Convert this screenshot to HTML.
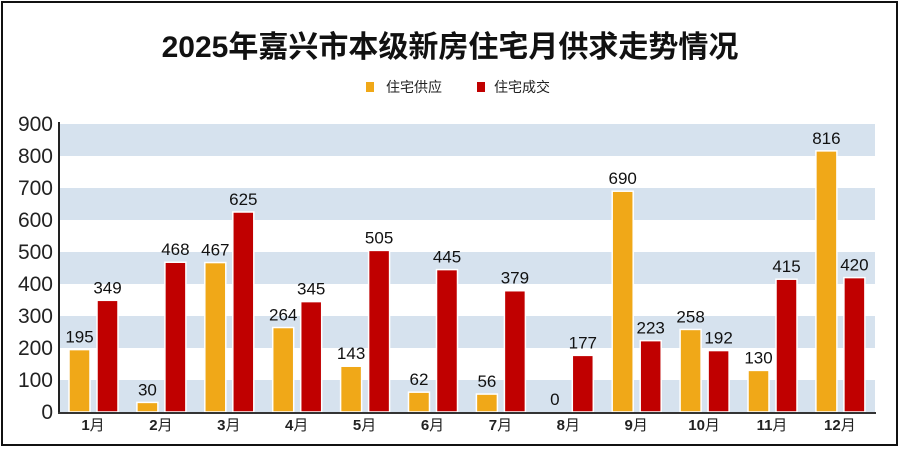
<!DOCTYPE html>
<html><head><meta charset="utf-8"><style>
html,body{margin:0;padding:0;background:#fff}
svg text{font-family:"Liberation Sans","Noto Sans CJK SC",sans-serif}
</style></head><body>
<svg width="900" height="448" viewBox="0 0 900 448" xmlns="http://www.w3.org/2000/svg">
<rect x="2" y="2" width="895" height="443" fill="#fff" stroke="#111" stroke-width="2"/>
<text x="450" y="57" text-anchor="middle" font-size="30" font-weight="bold" fill="#111">2025年嘉兴市本级新房住宅月供求走势情况</text>
<rect x="366" y="82" width="8" height="10" fill="#f0a818"/>
<text x="386" y="92" font-size="14" fill="#222">住宅供应</text>
<rect x="477" y="82" width="8" height="10" fill="#c00000"/>
<text x="494" y="92" font-size="14" fill="#222">住宅成交</text>
<g fill="#d6e2ee">
<rect x="59" y="124" width="816" height="32"/>
<rect x="59" y="188" width="816" height="32"/>
<rect x="59" y="252" width="816" height="32"/>
<rect x="59" y="316" width="816" height="32"/>
<rect x="59" y="380" width="816" height="32"/>
</g>
<g font-size="21" fill="#222" text-anchor="end">
<text x="53" y="131">900</text><text x="53" y="163">800</text><text x="53" y="195">700</text>
<text x="53" y="227">600</text><text x="53" y="259">500</text><text x="53" y="291">400</text>
<text x="53" y="323">300</text><text x="53" y="355">200</text><text x="53" y="387">100</text>
<text x="53" y="419">0</text>
</g>
<g stroke="#fff" stroke-width="1.5" fill="#f0a818">
<rect x="69" y="349.6" width="21" height="62.4"/>
<rect x="136.9" y="402.4" width="21" height="9.6"/>
<rect x="204.8" y="262.56" width="21" height="149.44"/>
<rect x="272.7" y="327.52" width="21" height="84.48"/>
<rect x="340.6" y="366.24" width="21" height="45.76"/>
<rect x="408.5" y="392.16" width="21" height="19.84"/>
<rect x="476.4" y="394.08" width="21" height="17.92"/>
<rect x="612.2" y="191.2" width="21" height="220.8"/>
<rect x="680.1" y="329.44" width="21" height="82.56"/>
<rect x="748" y="370.4" width="21" height="41.6"/>
<rect x="815.9" y="150.88" width="21" height="261.12"/>
</g>
<g stroke="#fff" stroke-width="1.5" fill="#c00000">
<rect x="97" y="300.32" width="21" height="111.68"/>
<rect x="164.9" y="262.24" width="21" height="149.76"/>
<rect x="232.8" y="212" width="21" height="200"/>
<rect x="300.7" y="301.6" width="21" height="110.4"/>
<rect x="368.6" y="250.4" width="21" height="161.6"/>
<rect x="436.5" y="269.6" width="21" height="142.4"/>
<rect x="504.4" y="290.72" width="21" height="121.28"/>
<rect x="572.3" y="355.36" width="21" height="56.64"/>
<rect x="640.2" y="340.64" width="21" height="71.36"/>
<rect x="708.1" y="350.56" width="21" height="61.44"/>
<rect x="776" y="279.2" width="21" height="132.8"/>
<rect x="843.9" y="277.6" width="21" height="134.4"/>
</g>
<g font-size="17" fill="#111" text-anchor="middle">
<text x="79.5" y="342.6">195</text>
<text x="147.4" y="395.4">30</text>
<text x="215.3" y="255.6">467</text>
<text x="283.2" y="320.5">264</text>
<text x="351.1" y="359.2">143</text>
<text x="419" y="385.2">62</text>
<text x="486.9" y="387.1">56</text>
<text x="554.8" y="405">0</text>
<text x="622.7" y="184.2">690</text>
<text x="690.6" y="322.4">258</text>
<text x="758.5" y="363.4">130</text>
<text x="826.4" y="143.9">816</text>
<text x="107.5" y="293.3">349</text>
<text x="175.4" y="255.2">468</text>
<text x="243.3" y="205">625</text>
<text x="311.2" y="294.6">345</text>
<text x="379.1" y="243.4">505</text>
<text x="447" y="262.6">445</text>
<text x="514.9" y="283.7">379</text>
<text x="582.8" y="348.4">177</text>
<text x="650.7" y="333.6">223</text>
<text x="718.6" y="343.6">192</text>
<text x="786.5" y="272.2">415</text>
<text x="854.4" y="270.6">420</text>
</g>
<g font-size="15" fill="#222" text-anchor="middle">
<text x="93" y="430"><tspan font-weight="bold">1</tspan>月</text>
<text x="160.9" y="430"><tspan font-weight="bold">2</tspan>月</text>
<text x="228.8" y="430"><tspan font-weight="bold">3</tspan>月</text>
<text x="296.7" y="430"><tspan font-weight="bold">4</tspan>月</text>
<text x="364.6" y="430"><tspan font-weight="bold">5</tspan>月</text>
<text x="432.5" y="430"><tspan font-weight="bold">6</tspan>月</text>
<text x="500.4" y="430"><tspan font-weight="bold">7</tspan>月</text>
<text x="568.3" y="430"><tspan font-weight="bold">8</tspan>月</text>
<text x="636.2" y="430"><tspan font-weight="bold">9</tspan>月</text>
<text x="704.1" y="430"><tspan font-weight="bold">10</tspan>月</text>
<text x="772" y="430"><tspan font-weight="bold">11</tspan>月</text>
<text x="839.9" y="430"><tspan font-weight="bold">12</tspan>月</text>
</g>
<line x1="59" y1="122" x2="59" y2="413" stroke="#222" stroke-width="2"/>
<line x1="58" y1="413" x2="876" y2="413" stroke="#333" stroke-width="2"/>
</svg>
</body></html>
